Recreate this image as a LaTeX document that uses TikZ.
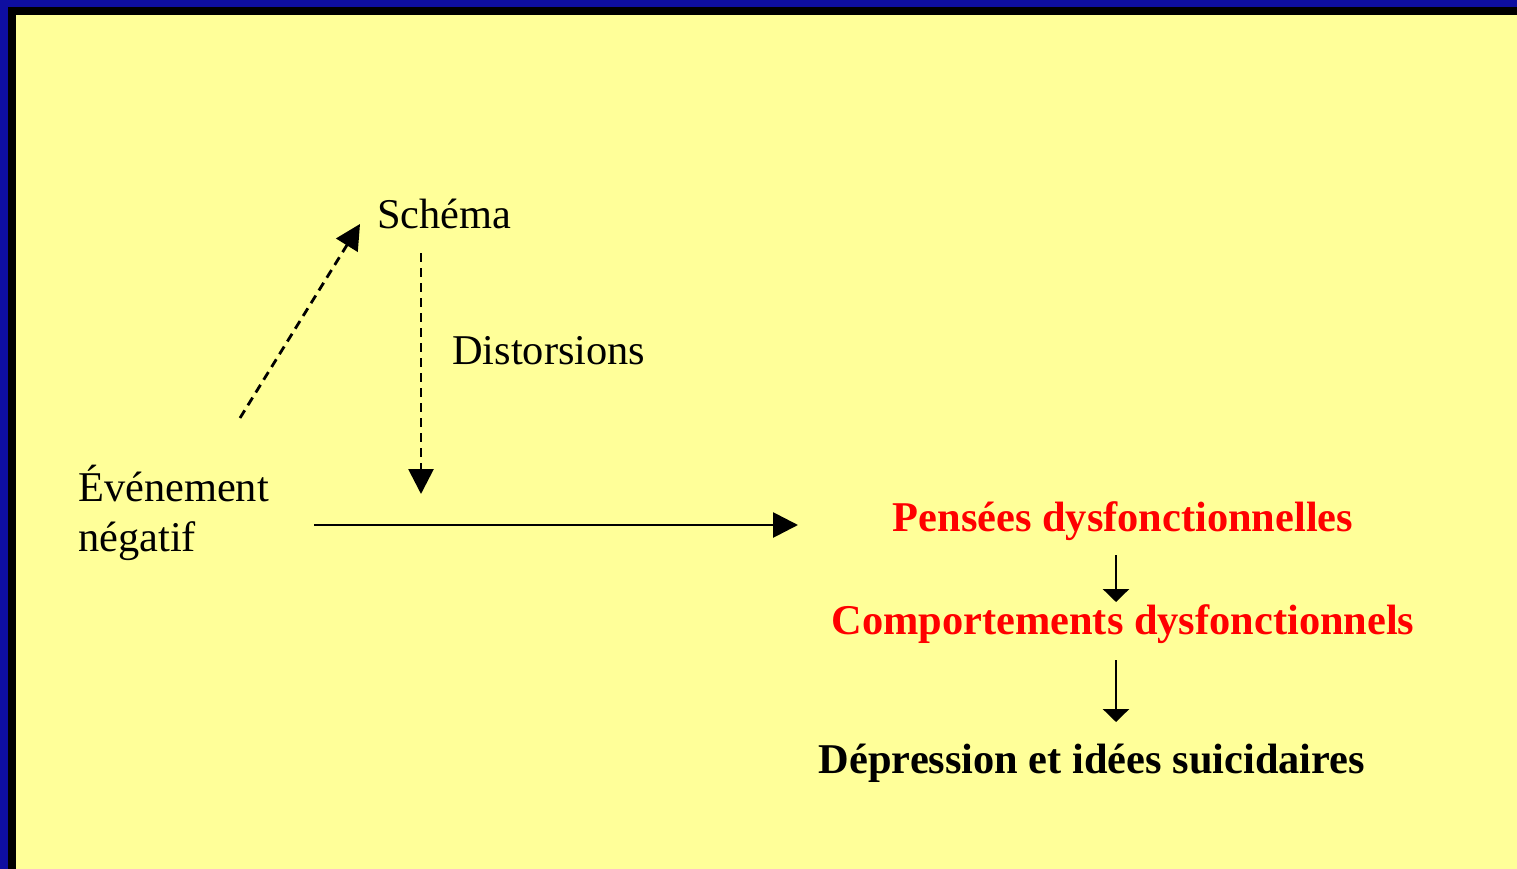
\documentclass[tikz,border=0pt]{standalone}
\usepackage{fontspec}
\setmainfont{Liberation Serif}
\usetikzlibrary{arrows.meta}
\definecolor{frameblue}{RGB}{14,14,160}
\definecolor{bgyellow}{RGB}{255,255,153}
\definecolor{redtxt}{RGB}{255,0,0}
\begin{document}
\begin{tikzpicture}[x=1pt,y=-1pt,
  lbl/.style={inner sep=0pt,font=\fontsize{42.4pt}{50pt}\selectfont},
  lblb/.style={lbl,font=\fontsize{42.4pt}{50pt}\selectfont\bfseries},
  bigarrow/.style={line width=2.8pt,-{Triangle[length=25pt,width=25pt]}},
  smallarrow/.style={line width=2.8pt,-{Triangle[length=13pt,width=26pt]}},
  dashline/.style={dash pattern=on 9pt off 6pt}]
\useasboundingbox (0,0) rectangle (1517,869);
\fill[frameblue] (0,0) rectangle (1517,869);
\fill[black] (8,7) rectangle (1517,869);
\fill[bgyellow] (16,15) rectangle (1517,869);

\node[lbl,anchor=base west] (schema) at (377,229) {Schéma};
\node[lbl,anchor=base west] (dist) at (452,364) {Distorsions};
\node[lbl,anchor=base west] (evt) at (78,501) {Événement};
\node[lbl,anchor=base west] (neg) at (78,551) {négatif};
\node[lblb,anchor=base,text=redtxt] (pens) at (1123,531) {Pensées dysfonctionnelles};
\node[lblb,anchor=base,text=redtxt] (comp) at (1123,634) {Comportements dysfonctionnels};
\node[lblb,anchor=base] (dep) at (1092,773) {Dépression et idées suicidaires};

\coordinate (a1s) at (240,418);
\coordinate (a1e) at (360,224);
\coordinate (a2s) at (421,253);
\coordinate (a2e) at (421,494);
\coordinate (a3s) at (314,525);
\coordinate (a3e) at (798,525);
\coordinate (a4s) at (1116,555);
\coordinate (a4e) at (1116,602);
\coordinate (a5s) at (1116,660);
\coordinate (a5e) at (1116,722);

\draw[bigarrow,dashline] (a1s) -- (a1e);
\draw[bigarrow,dashline] (a2s) -- (a2e);
\draw[bigarrow] (a3s) -- (a3e);
\draw[smallarrow] (a4s) -- (a4e);
\draw[smallarrow] (a5s) -- (a5e);
\end{tikzpicture}
\end{document}
